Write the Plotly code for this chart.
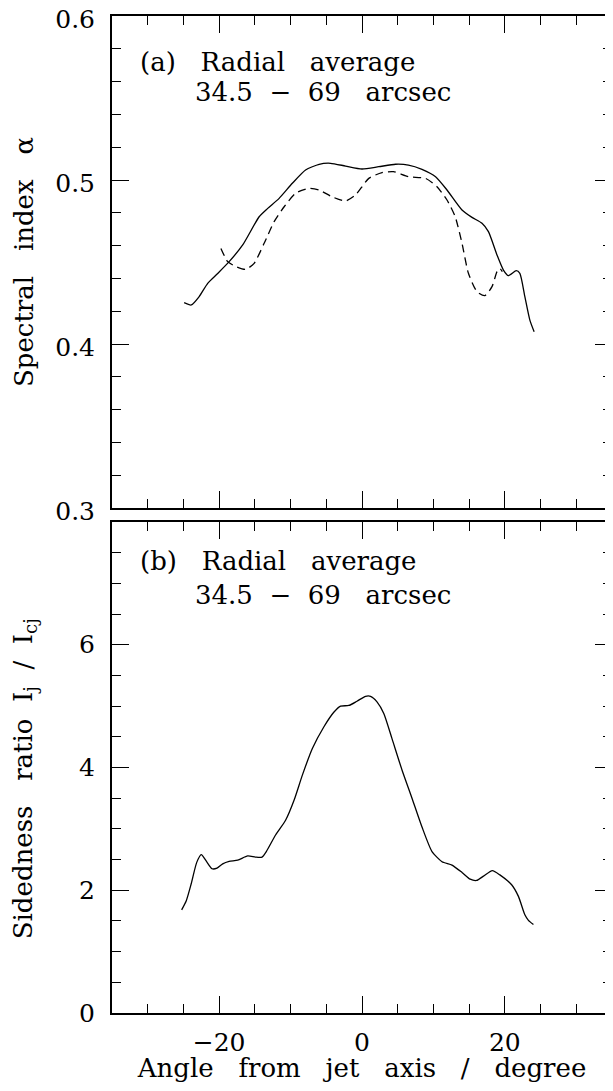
import plotly.graph_objects as go

# ---------------- data ----------------
# (a) spectral index, solid curve
alpha_solid_x = [-24.9, -23.9, -22.8, -21.6, -20.2, -18.6, -16.7, -14.4, -13.2, -11.6, -9.75, -7.9,
                 -6.0, -4.4, -2.3, 0.0, 2.35, 4.7, 6.5, 8.4, 10.3, 11.9, 14.0, 15.4, 16.8, 17.7,
                 18.9, 19.8, 20.5, 21.6, 22.1, 22.8, 23.5, 24.1]
alpha_solid_y = [0.4252, 0.4238, 0.4289, 0.437, 0.443, 0.4502, 0.4604, 0.4776, 0.4827, 0.4888, 0.498, 0.5061,
                 0.5096, 0.5102, 0.5085, 0.5067, 0.5081, 0.5096, 0.5091, 0.5065, 0.502, 0.4939, 0.4817, 0.4772,
                 0.4736, 0.4685, 0.4543, 0.4451, 0.4417, 0.4447, 0.4431, 0.4289, 0.4146, 0.4075]

# (a) spectral index, dashed curve
alpha_dash_x = [-19.75, -18.8, -17.65, -16.3, -15.1, -13.7, -12.3, -10.9, -9.3, -7.4, -6.0, -4.2,
                -2.3, -0.9, 0.95, 2.8, 4.4, 6.5, 8.9, 10.5, 11.9, 13.05, 14.0, 14.9, 16.1, 17.2,
                18.2, 18.9, 19.3, 19.65]
alpha_dash_y = [0.4583, 0.4502, 0.4472, 0.4455, 0.4492, 0.4614, 0.4746, 0.4837, 0.4919, 0.4949, 0.4939, 0.4898,
                0.4872, 0.4909, 0.501, 0.5045, 0.5051, 0.502, 0.501, 0.4959, 0.4878, 0.4776, 0.4614, 0.4431,
                0.4319, 0.4295, 0.435, 0.4441, 0.4461, 0.4441]

# (b) sidedness ratio
side_x = [-25.25, -24.6, -23.9, -23.15, -22.5, -21.75, -21.0, -20.3, -19.5, -18.6, -17.4, -16.0, -14.9,
          -14.0, -13.4, -12.1, -10.7, -9.5, -8.35, -6.95, -5.35, -3.95, -3.0, -1.85, -0.7, 0.5, 1.2,
          2.1, 3.05, 4.2, 5.6, 7.0, 8.4, 9.8, 11.2, 12.6, 14.0, 15.15, 16.05, 17.0, 18.25, 19.3,
          20.95, 21.9, 22.8, 23.3, 24.0]
side_y = [1.68, 1.83, 2.11, 2.45, 2.58, 2.465, 2.35, 2.36, 2.43, 2.47, 2.49, 2.56, 2.54,
          2.54, 2.63, 2.9, 3.14, 3.47, 3.875, 4.31, 4.66, 4.9, 5.0, 5.01, 5.08, 5.16, 5.16,
          5.07, 4.88, 4.47, 3.96, 3.5, 3.03, 2.63, 2.465, 2.41, 2.29, 2.18, 2.16, 2.23, 2.32, 2.25,
          2.09, 1.9, 1.6, 1.51, 1.44]

x_ticks = [-20, 0, 20]
alpha_ticks = [0.3, 0.4, 0.5, 0.6]
side_ticks = [0, 2, 4, 6]

FONT = "DejaVu Serif"
FS_TICK = 25
FS_TXT = 26
SP = "\u00a0"

fig = go.Figure()
fig.add_trace(go.Scatter(x=alpha_solid_x, y=alpha_solid_y, mode="lines",
                         line=dict(color="black", width=1.3, shape="spline", smoothing=0.6),
                         xaxis="x", yaxis="y", showlegend=False))
fig.add_trace(go.Scatter(x=alpha_dash_x, y=alpha_dash_y, mode="lines",
                         line=dict(color="black", width=1.3, dash="8px,5px", shape="spline", smoothing=0.6),
                         xaxis="x", yaxis="y", showlegend=False))
fig.add_trace(go.Scatter(x=side_x, y=side_y, mode="lines",
                         line=dict(color="black", width=1.3, shape="spline", smoothing=0.6),
                         xaxis="x2", yaxis="y2", showlegend=False))

common = dict(showline=True, linewidth=2, linecolor="black", mirror="ticks",
              ticks="inside", ticklen=17, tickwidth=1.2, tickcolor="black",
              showgrid=False, zeroline=False, ticklabeloverflow="allow", automargin=False,
              tickfont=dict(family=FONT, size=FS_TICK, color="black"))

xcommon = dict(common, range=[-35, 35], tickvals=x_ticks,
               minor=dict(dtick=5, tick0=0, ticks="inside", ticklen=9, tickwidth=1.2,
                          tickcolor="black", showgrid=False))

# page body has an 8px margin: figure is sized/placed so the frame lands where the reference has it
fig.update_layout(
    width=605, height=1075,
    margin=dict(l=104, r=1, t=8, b=70, autoexpand=False),
    paper_bgcolor="white", plot_bgcolor="white",
    xaxis=dict(xcommon, domain=[0, 1], anchor="y", showticklabels=False),
    yaxis=dict(common, domain=[0.5065, 1.0], anchor="x", range=[0.3, 0.6],
               tickvals=alpha_ticks, tickformat=".1f", ticklabelstandoff=10, ticklabelshift=3,
               minor=dict(dtick=0.02, tick0=0.3, ticks="inside", ticklen=9, tickwidth=1.2,
                          tickcolor="black", showgrid=False)),
    xaxis2=dict(xcommon, domain=[0, 1], anchor="y2", ticklabelstandoff=6,
                title=dict(text="Angle" + SP * 2 + " from" + SP * 2 + " jet" + SP * 2 + " axis"
                                + SP * 2 + " /" + SP * 2 + " degree",
                           font=dict(family=FONT, size=FS_TXT, color="black"), standoff=1)),
    yaxis2=dict(common, domain=[0.0, 0.4925], anchor="x2", range=[0, 8],
                tickvals=side_ticks, ticklabelstandoff=10,
                minor=dict(dtick=0.5, tick0=0, ticks="inside", ticklen=9, tickwidth=1.2,
                           tickcolor="black", showgrid=False)),
)

ann_font = dict(family=FONT, size=FS_TXT, color="black")
line1a = "(a)" + SP * 2 + " Radial" + SP * 2 + " average"
line1b = "(b)" + SP * 2 + " Radial" + SP * 2 + " average"
line2 = "34.5" + SP + " −" + SP + " 69" + SP * 2 + " arcsec"
fig.add_annotation(text=line1a, xref="x domain", yref="y domain",
                   x=0.052, y=0.9065, xanchor="left", yanchor="middle", showarrow=False, font=ann_font)
fig.add_annotation(text=line2, xref="x domain", yref="y domain",
                   x=0.162, y=0.8455, xanchor="left", yanchor="middle", showarrow=False, font=ann_font)
fig.add_annotation(text=line1b, xref="x2 domain", yref="y2 domain",
                   x=0.052, y=0.9196, xanchor="left", yanchor="middle", showarrow=False, font=ann_font)
fig.add_annotation(text=line2, xref="x2 domain", yref="y2 domain",
                   x=0.162, y=0.8523, xanchor="left", yanchor="middle", showarrow=False, font=ann_font)

# y-axis titles
fig.add_annotation(text="Spectral" + SP * 2 + " index" + SP * 2 + " α", xref="paper", yref="y domain",
                   x=-0.176, y=0.5, xanchor="center", yanchor="middle", textangle=-90,
                   showarrow=False, font=ann_font)
fig.add_annotation(text="Sidedness" + SP * 2 + " ratio" + SP + " I<sub>j</sub>" + SP + " /" + SP + " I<sub>cj</sub>",
                   xref="paper", yref="y2 domain",
                   x=-0.176, y=0.476, xanchor="center", yanchor="middle", textangle=-90,
                   showarrow=False, font=ann_font)

fig.write_html("out.html")
